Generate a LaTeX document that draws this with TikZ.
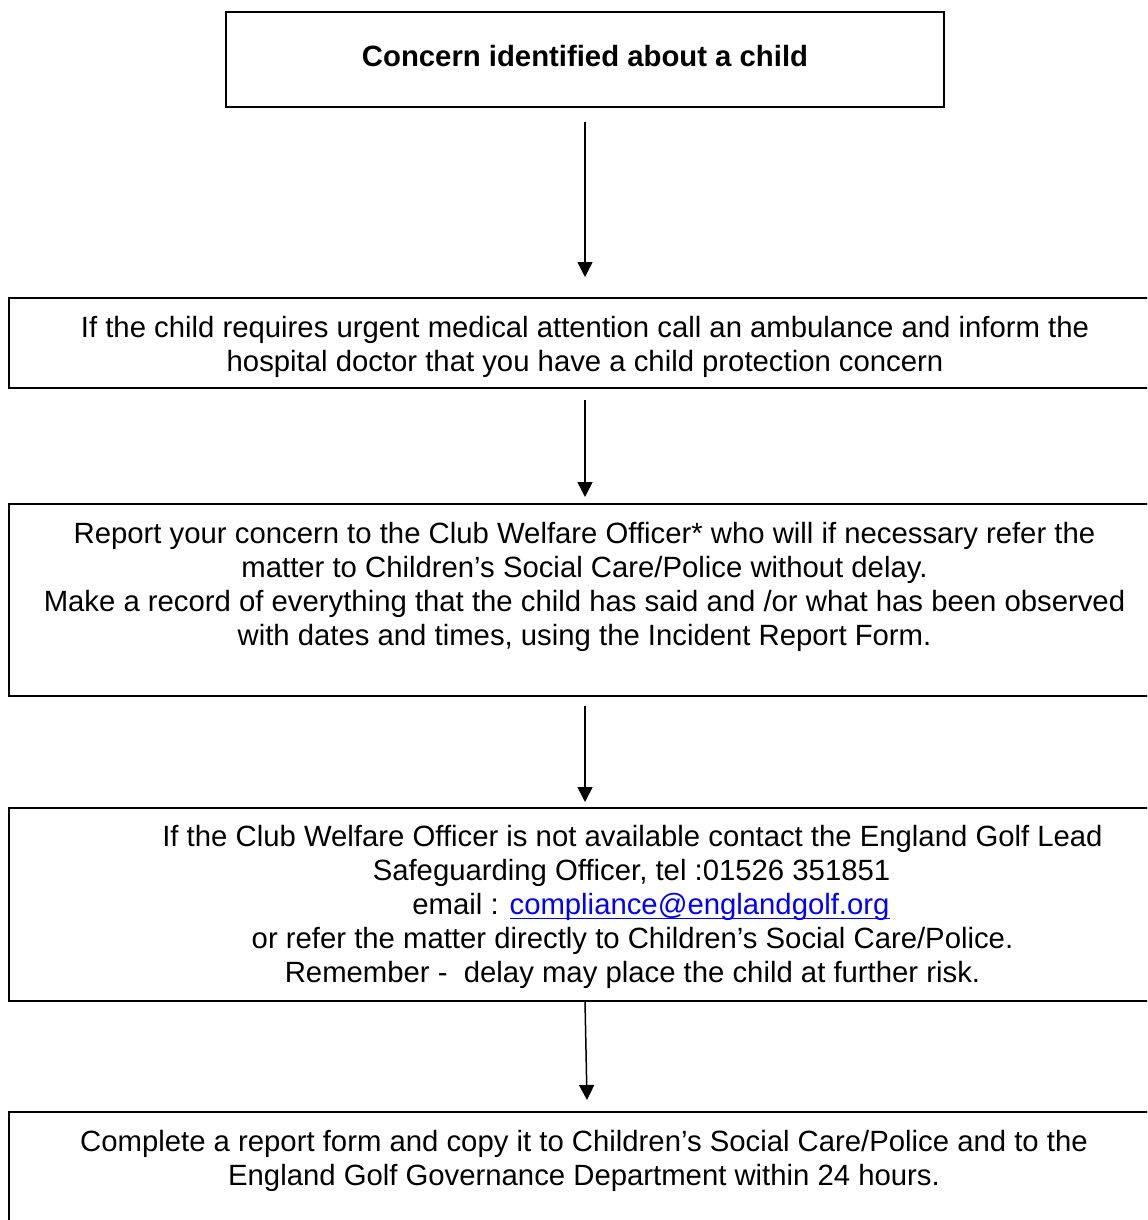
\documentclass[tikz,border=0pt]{standalone}
\usepackage{fontspec}
\setmainfont{Liberation Sans}
\usetikzlibrary{arrows.meta}
\definecolor{linkblue}{RGB}{0,0,255}
\newcommand\ulink[1]{\setbox0\hbox{#1}\rlap{\rule[-2.5pt]{\wd0}{0.75pt}}\box0}
\begin{document}
\begin{tikzpicture}[x=0.5pt,y=-0.5pt,
  box/.style={draw, line width=1pt, inner sep=0pt},
  txt/.style={anchor=base, inner sep=0pt, font=\fontsize{14.65}{17}\selectfont},
  arr/.style={line width=0.75pt, -{Triangle[length=7.5pt,width=7.5pt]}}]
\useasboundingbox (0,0) rectangle (1147,1220);
\clip (0,0) rectangle (1147,1220);
% boxes
\node[box, minimum width=359pt, minimum height=47.5pt] (b1) at (585,59.5) {};
\node[box, minimum width=576pt, minimum height=45pt] (b2) at (585,343) {};
\node[box, minimum width=576pt, minimum height=96pt] (b3) at (585,600) {};
\node[box, minimum width=576pt, minimum height=96.5pt] (b4) at (585,904.5) {};
\node[box, minimum width=576pt, minimum height=74pt] (b5) at (585,1186) {};
% texts
\node[txt, font=\fontsize{14.65}{17}\selectfont\bfseries] (t1) at (585,67) {Concern identified about a child};
\node[txt] (t21) at (585,337) {If the child requires urgent medical attention call an ambulance and inform the};
\node[txt] (t22) at (585,371) {hospital doctor that you have a child protection concern};
\node[txt] (t31) at (584.5,543) {Report your concern to the Club Welfare Officer* who will if necessary refer the};
\node[txt] (t32) at (584.5,577) {matter to Children’s Social Care/Police without delay.};
\node[txt] (t33) at (584.5,611) {Make a record of everything that the child has said and /or what has been observed};
\node[txt] (t34) at (584.5,645) {with dates and times, using the Incident Report Form.};
\node[txt] (t41) at (632.5,846) {If the Club Welfare Officer is not available contact the England Golf Lead};
\node[txt] (t42) at (631.5,880) {Safeguarding Officer, tel :01526 351851};
\node[txt] (t43) at (651,914) {email : {\color{linkblue}\ulink{compliance@englandgolf.org}}};
\node[txt] (t44) at (632.5,948) {or refer the matter directly to Children’s Social Care/Police.};
\node[txt] (t45) at (632.5,982) {Remember -\ \ delay may place the child at further risk.};
\node[txt] (t51) at (584,1151) {Complete a report form and copy it to Children’s Social Care/Police and to the};
\node[txt] (t52) at (584,1185) {England Golf Governance Department within 24 hours.};
% arrow ends
\coordinate (a1s) at (585,122);
\coordinate (a1e) at (585,277);
\coordinate (a2s) at (585,400);
\coordinate (a2e) at (585,497);
\coordinate (a3s) at (585,706);
\coordinate (a3e) at (585,802);
\coordinate (a4s) at (585,1001);
\coordinate (a4e) at (587,1100);
\draw[arr] (a1s) -- (a1e);
\draw[arr] (a2s) -- (a2e);
\draw[arr] (a3s) -- (a3e);
\draw[arr] (a4s) -- (a4e);
\end{tikzpicture}
\end{document}
